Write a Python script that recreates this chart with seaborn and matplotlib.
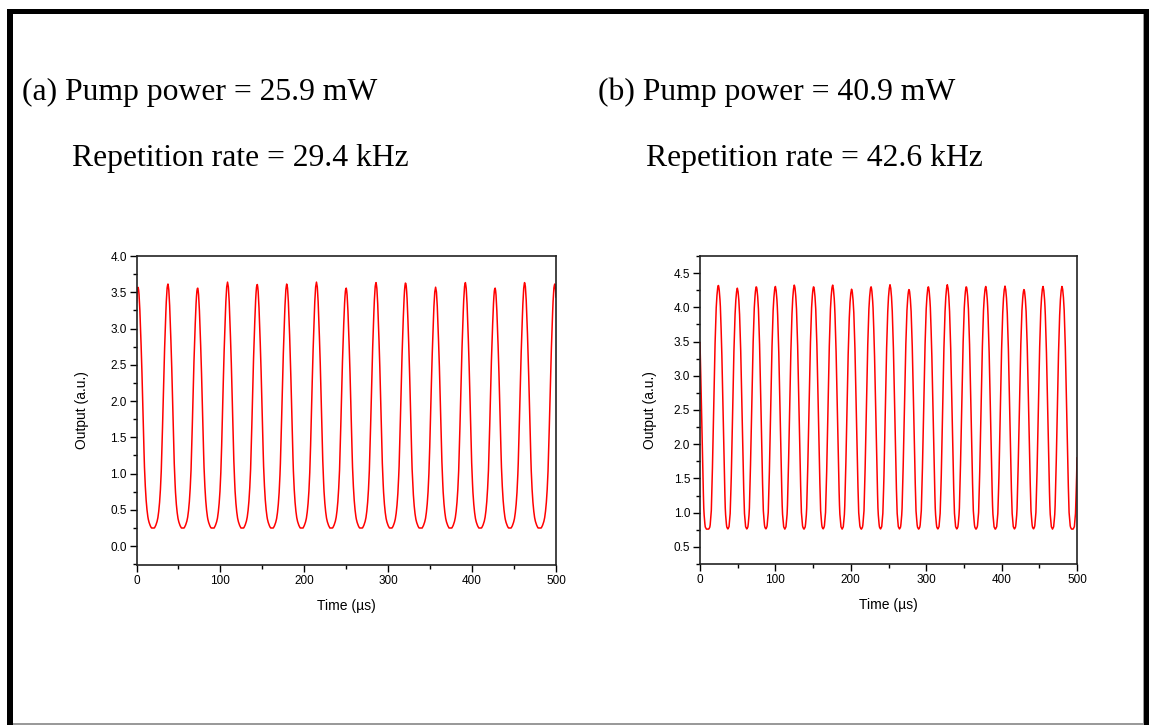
import numpy as np
import pandas as pd
import matplotlib
matplotlib.use("Agg")
import matplotlib.pyplot as plt
import seaborn as sns
from matplotlib.patches import Rectangle
from matplotlib.ticker import MultipleLocator, FormatStrFormatter

# ---------------- data ----------------
# (a) pump 25.9 mW
a_peak_times = [1.8, 37.4, 72.8, 108.5, 143.8, 179.1, 214.5, 249.8, 285.4,
                320.7, 356.5, 391.9, 427.3, 462.6, 498.4]
a_peak_heights = [3.58, 3.62, 3.57, 3.64, 3.62, 3.62, 3.64, 3.57, 3.64,
                  3.64, 3.57, 3.64, 3.57, 3.64, 3.62]
a_trough = 0.25
# pulse profile (offset from peak in µs, fraction of peak-to-trough)
a_prof_offset = [0, 1, 2, 3.2, 4.5, 5.6, 6.7, 7.8, 9, 10, 11, 12, 13, 14.5, 16]
a_prof_frac = [1.0, 0.98, 0.92, 0.81, 0.67, 0.52, 0.37, 0.24, 0.15, 0.10,
               0.065, 0.04, 0.025, 0.01, 0.0]

# (b) pump 40.9 mW
b_peak_times = [-4.2, 24.3, 49.5, 74.7, 99.9, 125.1, 150.7, 175.9, 201.1,
                226.8, 252.0, 277.2, 302.8, 328.0, 353.2, 378.9, 404.5,
                429.7, 454.9, 480.1, 507.5]
b_peak_heights = [4.30, 4.33, 4.28, 4.31, 4.31, 4.33, 4.31, 4.33, 4.27,
                  4.31, 4.33, 4.27, 4.31, 4.33, 4.31, 4.31, 4.31, 4.27,
                  4.31, 4.31, 4.30]
b_trough = 0.76
b_prof_offset = [0, 1, 2, 2.9, 4.5, 6.2, 8, 9.35, 11, 12.6]
b_prof_frac = [1.0, 0.985, 0.95, 0.9, 0.74, 0.49, 0.22, 0.07, 0.01, 0.0]

a_title = ["(a) Pump power = 25.9 mW", "Repetition rate = 29.4 kHz"]
b_title = ["(b) Pump power = 40.9 mW", "Repetition rate = 42.6 kHz"]
x_label = "Time (\u00b5s)"
y_label = "Output (a.u.)"


def build_trace(peaks, heights, trough, prof_off, prof_frac):
    t = np.arange(0, 500.01, 0.5)
    y = np.full_like(t, trough)
    for p, h in zip(peaks, heights):
        f = np.interp(np.abs(t - p), prof_off, prof_frac, right=0.0)
        y = np.maximum(y, trough + f * (h - trough))
    return pd.DataFrame({"t": t, "y": y})


df_a = build_trace(a_peak_times, a_peak_heights, a_trough, a_prof_offset, a_prof_frac)
df_b = build_trace(b_peak_times, b_peak_heights, b_trough, b_prof_offset, b_prof_frac)

# ---------------- figure ----------------
sns.set_theme(style="white")
plt.rcParams["font.family"] = ["Liberation Sans", "DejaVu Sans"]
plt.rcParams["text.color"] = "black"
plt.rcParams["axes.labelcolor"] = "black"
plt.rcParams["xtick.color"] = "black"
plt.rcParams["ytick.color"] = "black"

W, H = 1149, 725
fig = plt.figure(figsize=(W / 100, H / 100), dpi=100)
fig.patch.set_facecolor("white")


def px_rect(x0, y0, x1, y1, color):
    fig.patches.append(Rectangle((x0 / W, 1 - y1 / H), (x1 - x0) / W, (y1 - y0) / H,
                                 transform=fig.transFigure, facecolor=color,
                                 edgecolor="none", zorder=0))


# outer frame
px_rect(7, 9, 12.5, 725, "black")
px_rect(7, 9, 1149, 14, "black")
px_rect(1143.5, 9, 1149, 725, "black")
px_rect(12.5, 722.5, 1143.5, 725, "#9a9a9a")
px_rect(1142.5, 14, 1143.5, 722.5, "#9a9a9a")


def axes_px(l, t, r, b):
    return fig.add_axes([l / W, 1 - b / H, (r - l) / W, (b - t) / H])


ax_a = axes_px(136.5, 256, 556, 565)
ax_b = axes_px(700, 256, 1077, 564)

for ax, df, ylim, ymaj, ypad in [(ax_a, df_a, (-0.26, 4.0), 0.5, 15),
                                 (ax_b, df_b, (0.25, 4.75), 0.5, 12)]:
    sns.lineplot(data=df, x="t", y="y", ax=ax, color="#ff0000", linewidth=1.1)
    ax.set_xlim(0, 500)
    ax.set_ylim(*ylim)
    ax.xaxis.set_major_locator(MultipleLocator(100))
    ax.xaxis.set_minor_locator(MultipleLocator(50))
    ax.yaxis.set_major_locator(MultipleLocator(ymaj))
    ax.yaxis.set_minor_locator(MultipleLocator(ymaj / 2))
    ax.yaxis.set_major_formatter(FormatStrFormatter("%.1f"))
    ax.tick_params(axis="both", which="major", direction="out", length=5,
                   width=1, labelsize=8.5, colors="black", pad=2,
                   bottom=True, left=True, top=False, right=False)
    ax.tick_params(axis="both", which="minor", direction="out", length=3,
                   width=1, bottom=True, left=True, top=False, right=False)
    for s in ax.spines.values():
        s.set_color("#222222")
        s.set_linewidth(1.2)
    ax.set_xlabel(x_label, fontsize=10, labelpad=9)
    ax.set_ylabel(y_label, fontsize=10, labelpad=ypad)
    ax.set_facecolor("white")
    ax.grid(False)

serif = ["Liberation Serif", "DejaVu Serif"]
fs = 22.8
fig.text(22 / W, 1 - 100 / H, a_title[0], family=serif, fontsize=fs,
         ha="left", va="baseline", color="black")
fig.text(72 / W, 1 - 166 / H, a_title[1], family=serif, fontsize=fs,
         ha="left", va="baseline", color="black")
fig.text(598 / W, 1 - 100 / H, b_title[0], family=serif, fontsize=fs,
         ha="left", va="baseline", color="black")
fig.text(646 / W, 1 - 166 / H, b_title[1], family=serif, fontsize=fs,
         ha="left", va="baseline", color="black")

fig.savefig("out.png", dpi=100, facecolor="white")
